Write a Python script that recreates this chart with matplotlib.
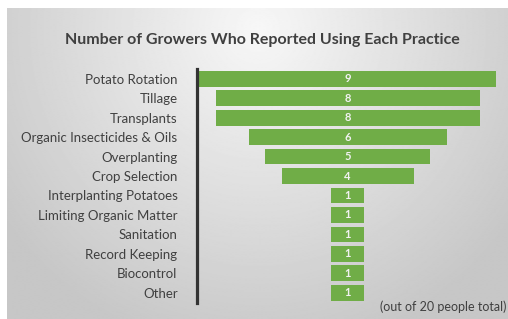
import numpy as np
import matplotlib
matplotlib.use('Agg')
import matplotlib.pyplot as plt

practices = ['Potato Rotation', 'Tillage', 'Transplants', 'Organic Insecticides & Oils',
             'Overplanting', 'Crop Selection', 'Interplanting Potatoes',
             'Limiting Organic Matter', 'Sanitation', 'Record Keeping', 'Biocontrol', 'Other']
growers = [9, 8, 8, 6, 5, 4, 1, 1, 1, 1, 1, 1]

W, H = 508, 319
plt.rcParams['font.family'] = ['Lato', 'DejaVu Sans']
fig = plt.figure(figsize=(W / 100, H / 100), dpi=100)
fig.patch.set_facecolor('white')

# gray radial background of the chart area
bg = fig.add_axes([7 / W, 0, 1 - 7 / W, (H - 8) / H])
yy, xx = np.mgrid[0:300, 0:500]
r = np.sqrt(((xx - 250) / 330.0) ** 2 + ((yy - 20) / 330.0) ** 2)
shade = np.clip(0.97 - 0.2 * r, 0.78, 0.97)
bg.imshow(shade, cmap='gray', vmin=0, vmax=1, aspect='auto', interpolation='bilinear')
bg.axis('off')

# funnel axes
left, right = 197, 508
top, bottom = 69, 302.5
ax = fig.add_axes([left / W, (H - bottom) / H, (right - left) / W, (bottom - top) / H])
ax.patch.set_alpha(0)
center_px = 347.5
unit = 33.0
ax.set_xlim(-(center_px - left) / unit, (right - center_px) / unit)
ax.set_ylim(len(practices) - 0.5, -0.5)

y = np.arange(len(practices))
vals = np.array(growers)
ax.barh(y, vals, left=-vals / 2, height=0.81, color='#70AD47')
for yi, v in zip(y, vals):
    ax.text(0, yi, str(v), ha='center', va='center', color='#f2f2f2',
            fontsize=8, fontweight='bold')

ax.set_yticks(y)
ax.set_yticklabels(practices, fontsize=9.5, color='#404040')
ax.tick_params(axis='y', length=0, pad=14)
ax.set_xticks([])
for s in ['top', 'right', 'bottom']:
    ax.spines[s].set_visible(False)
ax.spines['left'].set_color('#333333')
ax.spines['left'].set_linewidth(2.3)

fig.text(262 / W, 1 - 40 / H, 'Number of Growers Who Reported Using Each Practice',
         ha='center', va='center', fontsize=11.5, fontweight='bold', color='#404040')
fig.text(506 / W, 1 - 307 / H, '(out of 20 people total)', ha='right', va='center',
         fontsize=9, color='#404040')

fig.savefig('out.png', dpi=100)
